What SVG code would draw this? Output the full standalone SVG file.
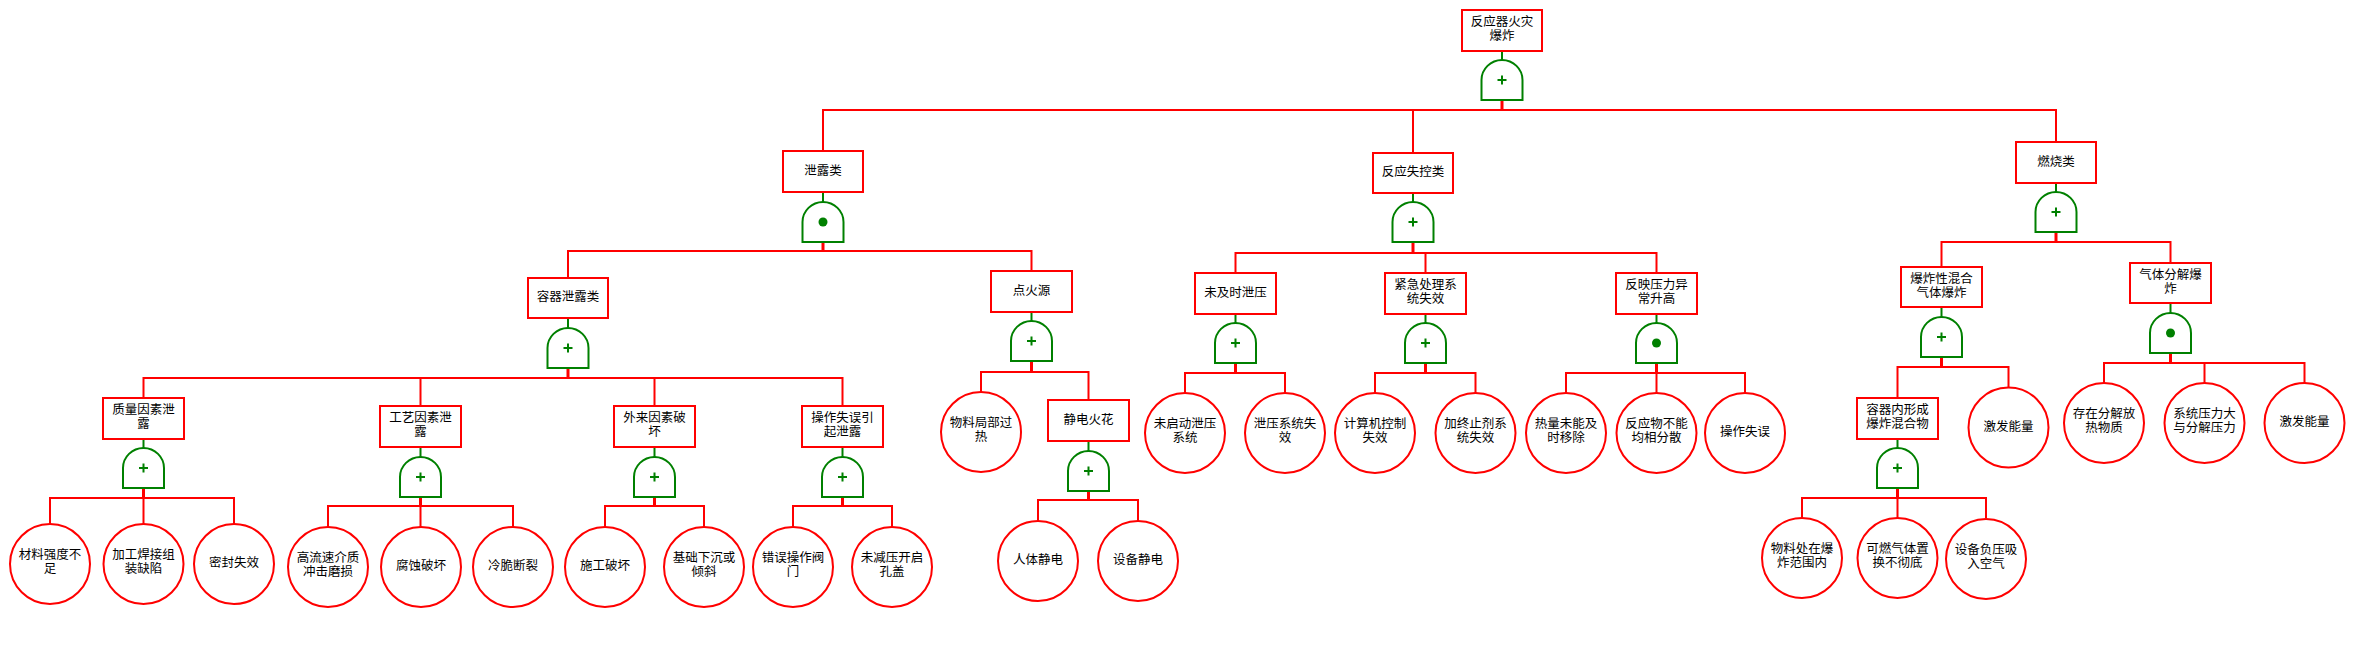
<svg xmlns="http://www.w3.org/2000/svg" xmlns:xlink="http://www.w3.org/1999/xlink" width="2354" height="666" viewBox="0 0 2354 666">
<style>
.box{fill:#fff;stroke:#f00;stroke-width:2}
.leaf{fill:#fff;stroke:#f00;stroke-width:2}
.gate{fill:#fff;stroke:#008000;stroke-width:2}
.sym{stroke:#008000;stroke-width:2;fill:none}
.dot{fill:#008000}
.g2b{stroke:#008000;stroke-width:2}
.stub{stroke:#f00;stroke-width:3}
.bus{stroke:#f00;stroke-width:2;fill:none}
text{font-family:"Liberation Sans","Noto Sans CJK SC",sans-serif;font-size:12.5px;fill:#000;text-anchor:middle;dominant-baseline:central}
</style>
<defs>
<g id="orGate"><path class="gate" d="M-20.5,40 V20 A20.5,20 0 0 1 20.5,20 V40 Z"/><path class="sym" d="M-4.5,20 H4.5 M0,15.5 V24.5"/></g>
<g id="andGate"><path class="gate" d="M-20.5,40 V20 A20.5,20 0 0 1 20.5,20 V40 Z"/><circle class="dot" cx="0" cy="20" r="4.5"/></g>
</defs>
<rect width="2354" height="666" fill="#fff"/>

<g id="connectors">
<line class="g2b" x1="1502" y1="51" x2="1502" y2="60"/>
<line class="stub" x1="1502" y1="100" x2="1502" y2="110"/>
<path class="bus" d="M823,151 V110 H2056 V142 M1413,110 V153"/>
<line class="g2b" x1="823" y1="192" x2="823" y2="202"/>
<line class="stub" x1="823" y1="242" x2="823" y2="251"/>
<path class="bus" d="M568,278 V251 H1031.5 V271"/>
<line class="g2b" x1="568" y1="318" x2="568" y2="328"/>
<line class="stub" x1="568" y1="368" x2="568" y2="378"/>
<path class="bus" d="M143.5,398 V378 H842.5 V406 M420.5,378 V406 M654.5,378 V406"/>
<line class="g2b" x1="143.5" y1="439" x2="143.5" y2="448"/>
<line class="stub" x1="143.5" y1="488" x2="143.5" y2="498"/>
<path class="bus" d="M50,524 V498 H234 V524 M143.5,498 V524"/>
<line class="g2b" x1="420.5" y1="447" x2="420.5" y2="457"/>
<line class="stub" x1="420.5" y1="497" x2="420.5" y2="506"/>
<path class="bus" d="M328,527 V506 H513 V527 M420.5,506 V527"/>
<line class="g2b" x1="654.5" y1="447" x2="654.5" y2="457"/>
<line class="stub" x1="654.5" y1="497" x2="654.5" y2="506"/>
<path class="bus" d="M605,527 V506 H704 V527"/>
<line class="g2b" x1="842.5" y1="447" x2="842.5" y2="457"/>
<line class="stub" x1="842.5" y1="497" x2="842.5" y2="506"/>
<path class="bus" d="M793,527 V506 H892 V527"/>
<line class="g2b" x1="1031.5" y1="312" x2="1031.5" y2="321"/>
<line class="stub" x1="1031.5" y1="361" x2="1031.5" y2="372"/>
<path class="bus" d="M981,392 V372 H1088.5 V400"/>
<line class="g2b" x1="1088.5" y1="441" x2="1088.5" y2="451"/>
<line class="stub" x1="1088.5" y1="491" x2="1088.5" y2="500"/>
<path class="bus" d="M1038,521 V500 H1138 V521"/>
<line class="g2b" x1="1413" y1="193" x2="1413" y2="202"/>
<line class="stub" x1="1413" y1="242" x2="1413" y2="253"/>
<path class="bus" d="M1235.5,273 V253 H1656.5 V273 M1425.5,253 V273"/>
<line class="g2b" x1="1235.5" y1="314" x2="1235.5" y2="323"/>
<line class="stub" x1="1235.5" y1="363" x2="1235.5" y2="373"/>
<path class="bus" d="M1185,393 V373 H1285 V393"/>
<line class="g2b" x1="1425.5" y1="314" x2="1425.5" y2="323"/>
<line class="stub" x1="1425.5" y1="363" x2="1425.5" y2="373"/>
<path class="bus" d="M1375,393 V373 H1475.5 V393"/>
<line class="g2b" x1="1656.5" y1="314" x2="1656.5" y2="323"/>
<line class="stub" x1="1656.5" y1="363" x2="1656.5" y2="373"/>
<path class="bus" d="M1566,393 V373 H1745 V393 M1656.5,373 V393"/>
<line class="g2b" x1="2056" y1="183" x2="2056" y2="192"/>
<line class="stub" x1="2056" y1="232" x2="2056" y2="242"/>
<path class="bus" d="M1941.5,267 V242 H2170.5 V263"/>
<line class="g2b" x1="1941.5" y1="307" x2="1941.5" y2="317"/>
<line class="stub" x1="1941.5" y1="357" x2="1941.5" y2="367"/>
<path class="bus" d="M1897.5,398 V367 H2008.5 V387.5"/>
<line class="g2b" x1="1897.5" y1="439" x2="1897.5" y2="448"/>
<line class="stub" x1="1897.5" y1="488" x2="1897.5" y2="498"/>
<path class="bus" d="M1802,518 V498 H1986 V518 M1897.5,498 V518"/>
<line class="g2b" x1="2170.5" y1="303" x2="2170.5" y2="313"/>
<line class="stub" x1="2170.5" y1="353" x2="2170.5" y2="363"/>
<path class="bus" d="M2104,383 V363 H2304.5 V383 M2204.5,363 V383"/>
</g>

<g id="n-top"><rect class="box" x="1462" y="10" width="80" height="41"/><text x="1502" y="22"><tspan x="1502">反应器火灾</tspan><tspan x="1502" dy="14">爆炸</tspan></text><use xlink:href="#orGate" x="1502" y="60"/></g>
<g id="n-xielou"><rect class="box" x="783" y="151" width="80" height="41"/><text x="823" y="170.5">泄露类</text><use xlink:href="#andGate" x="823" y="202"/></g>
<g id="n-shikong"><rect class="box" x="1373" y="153" width="80" height="40"/><text x="1413" y="172">反应失控类</text><use xlink:href="#orGate" x="1413" y="202"/></g>
<g id="n-ranshao"><rect class="box" x="2016" y="142" width="80" height="41"/><text x="2056" y="161.5">燃烧类</text><use xlink:href="#orGate" x="2056" y="192"/></g>
<g id="n-rongqi"><rect class="box" x="528" y="278" width="80" height="40"/><text x="568" y="297">容器泄露类</text><use xlink:href="#orGate" x="568" y="328"/></g>
<g id="n-dianhuo"><rect class="box" x="991" y="271" width="81" height="41"/><text x="1031.5" y="290.5">点火源</text><use xlink:href="#orGate" x="1031.5" y="321"/></g>
<g id="n-zhiliang"><rect class="box" x="103" y="398" width="81" height="41"/><text x="143.5" y="410"><tspan x="143.5">质量因素泄</tspan><tspan x="143.5" dy="14">露</tspan></text><use xlink:href="#orGate" x="143.5" y="448"/></g>
<g id="n-gongyi"><rect class="box" x="380" y="406" width="81" height="41"/><text x="420.5" y="418"><tspan x="420.5">工艺因素泄</tspan><tspan x="420.5" dy="14">露</tspan></text><use xlink:href="#orGate" x="420.5" y="457"/></g>
<g id="n-wailai"><rect class="box" x="614" y="406" width="81" height="41"/><text x="654.5" y="418"><tspan x="654.5">外来因素破</tspan><tspan x="654.5" dy="14">坏</tspan></text><use xlink:href="#orGate" x="654.5" y="457"/></g>
<g id="n-caozuo"><rect class="box" x="802" y="406" width="81" height="41"/><text x="842.5" y="418"><tspan x="842.5">操作失误引</tspan><tspan x="842.5" dy="14">起泄露</tspan></text><use xlink:href="#orGate" x="842.5" y="457"/></g>
<g id="n-jingdian"><rect class="box" x="1048" y="400" width="81" height="41"/><text x="1088.5" y="419.5">静电火花</text><use xlink:href="#orGate" x="1088.5" y="451"/></g>
<g id="n-weiji"><rect class="box" x="1195" y="273" width="81" height="41"/><text x="1235.5" y="292.5">未及时泄压</text><use xlink:href="#orGate" x="1235.5" y="323"/></g>
<g id="n-jinji"><rect class="box" x="1385" y="273" width="81" height="41"/><text x="1425.5" y="285"><tspan x="1425.5">紧急处理系</tspan><tspan x="1425.5" dy="14">统失效</tspan></text><use xlink:href="#orGate" x="1425.5" y="323"/></g>
<g id="n-fanying"><rect class="box" x="1616" y="273" width="81" height="41"/><text x="1656.5" y="285"><tspan x="1656.5">反映压力异</tspan><tspan x="1656.5" dy="14">常升高</tspan></text><use xlink:href="#andGate" x="1656.5" y="323"/></g>
<g id="n-baozha"><rect class="box" x="1901" y="267" width="81" height="40"/><text x="1941.5" y="278.5"><tspan x="1941.5">爆炸性混合</tspan><tspan x="1941.5" dy="14">气体爆炸</tspan></text><use xlink:href="#orGate" x="1941.5" y="317"/></g>
<g id="n-fenjie"><rect class="box" x="2130" y="263" width="81" height="40"/><text x="2170.5" y="274.5"><tspan x="2170.5">气体分解爆</tspan><tspan x="2170.5" dy="14">炸</tspan></text><use xlink:href="#andGate" x="2170.5" y="313"/></g>
<g id="n-neixing"><rect class="box" x="1857" y="398" width="81" height="41"/><text x="1897.5" y="410"><tspan x="1897.5">容器内形成</tspan><tspan x="1897.5" dy="14">爆炸混合物</tspan></text><use xlink:href="#orGate" x="1897.5" y="448"/></g>

<g id="e1"><circle class="leaf" cx="50" cy="564" r="40"/><text x="50" y="554.5"><tspan x="50">材料强度不</tspan><tspan x="50" dy="14">足</tspan></text></g>
<g id="e2"><circle class="leaf" cx="143.5" cy="564" r="40"/><text x="143.5" y="554.5"><tspan x="143.5">加工焊接组</tspan><tspan x="143.5" dy="14">装缺陷</tspan></text></g>
<g id="e3"><circle class="leaf" cx="234" cy="564" r="40"/><text x="234" y="563">密封失效</text></g>
<g id="e4"><circle class="leaf" cx="328" cy="567" r="40"/><text x="328" y="557.5"><tspan x="328">高流速介质</tspan><tspan x="328" dy="14">冲击磨损</tspan></text></g>
<g id="e5"><circle class="leaf" cx="421" cy="567" r="40"/><text x="421" y="566">腐蚀破坏</text></g>
<g id="e6"><circle class="leaf" cx="513" cy="567" r="40"/><text x="513" y="566">冷脆断裂</text></g>
<g id="e7"><circle class="leaf" cx="605" cy="567" r="40"/><text x="605" y="566">施工破坏</text></g>
<g id="e8"><circle class="leaf" cx="704" cy="567" r="40"/><text x="704" y="557.5"><tspan x="704">基础下沉或</tspan><tspan x="704" dy="14">倾斜</tspan></text></g>
<g id="e9"><circle class="leaf" cx="793" cy="567" r="40"/><text x="793" y="557.5"><tspan x="793">错误操作阀</tspan><tspan x="793" dy="14">门</tspan></text></g>
<g id="e10"><circle class="leaf" cx="892" cy="567" r="40"/><text x="892" y="557.5"><tspan x="892">未减压开启</tspan><tspan x="892" dy="14">孔盖</tspan></text></g>
<g id="e11"><circle class="leaf" cx="981" cy="432" r="40"/><text x="981" y="422.5"><tspan x="981">物料局部过</tspan><tspan x="981" dy="14">热</tspan></text></g>
<g id="e12"><circle class="leaf" cx="1038" cy="561" r="40"/><text x="1038" y="560">人体静电</text></g>
<g id="e13"><circle class="leaf" cx="1138" cy="561" r="40"/><text x="1138" y="560">设备静电</text></g>
<g id="e14"><circle class="leaf" cx="1185" cy="433" r="40"/><text x="1185" y="423.5"><tspan x="1185">未启动泄压</tspan><tspan x="1185" dy="14">系统</tspan></text></g>
<g id="e15"><circle class="leaf" cx="1285" cy="433" r="40"/><text x="1285" y="423.5"><tspan x="1285">泄压系统失</tspan><tspan x="1285" dy="14">效</tspan></text></g>
<g id="e16"><circle class="leaf" cx="1375" cy="433" r="40"/><text x="1375" y="423.5"><tspan x="1375">计算机控制</tspan><tspan x="1375" dy="14">失效</tspan></text></g>
<g id="e17"><circle class="leaf" cx="1475.5" cy="433" r="40"/><text x="1475.5" y="423.5"><tspan x="1475.5">加终止剂系</tspan><tspan x="1475.5" dy="14">统失效</tspan></text></g>
<g id="e18"><circle class="leaf" cx="1566" cy="433" r="40"/><text x="1566" y="423.5"><tspan x="1566">热量未能及</tspan><tspan x="1566" dy="14">时移除</tspan></text></g>
<g id="e19"><circle class="leaf" cx="1656.5" cy="433" r="40"/><text x="1656.5" y="423.5"><tspan x="1656.5">反应物不能</tspan><tspan x="1656.5" dy="14">均相分散</tspan></text></g>
<g id="e20"><circle class="leaf" cx="1745" cy="433" r="40"/><text x="1745" y="432">操作失误</text></g>
<g id="e21"><circle class="leaf" cx="1802" cy="558" r="40"/><text x="1802" y="548.5"><tspan x="1802">物料处在爆</tspan><tspan x="1802" dy="14">炸范围内</tspan></text></g>
<g id="e22"><circle class="leaf" cx="1897.5" cy="558" r="40"/><text x="1897.5" y="548.5"><tspan x="1897.5">可燃气体置</tspan><tspan x="1897.5" dy="14">换不彻底</tspan></text></g>
<g id="e23"><circle class="leaf" cx="1986" cy="559" r="40"/><text x="1986" y="549.5"><tspan x="1986">设备负压吸</tspan><tspan x="1986" dy="14">入空气</tspan></text></g>
<g id="e24"><circle class="leaf" cx="2008.5" cy="427.5" r="40"/><text x="2008.5" y="426.5">激发能量</text></g>
<g id="e25"><circle class="leaf" cx="2104" cy="423" r="40"/><text x="2104" y="413.5"><tspan x="2104">存在分解放</tspan><tspan x="2104" dy="14">热物质</tspan></text></g>
<g id="e26"><circle class="leaf" cx="2204.5" cy="423" r="40"/><text x="2204.5" y="413.5"><tspan x="2204.5">系统压力大</tspan><tspan x="2204.5" dy="14">与分解压力</tspan></text></g>
<g id="e27"><circle class="leaf" cx="2304.5" cy="423" r="40"/><text x="2304.5" y="422">激发能量</text></g>
</svg>
